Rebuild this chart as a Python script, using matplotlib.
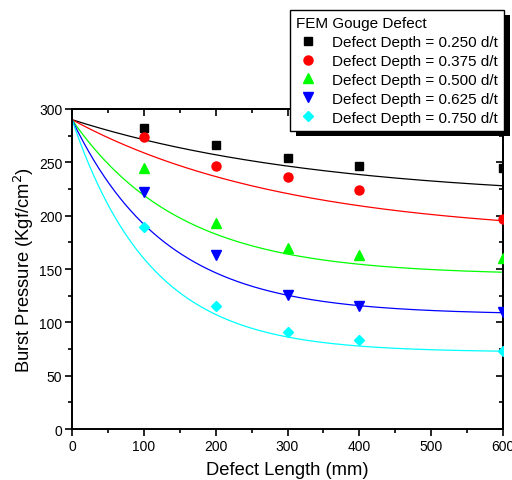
import numpy as np
import matplotlib
matplotlib.use("Agg")
import matplotlib.pyplot as plt
from matplotlib.patches import Rectangle
from matplotlib.ticker import MultipleLocator

plt.rcParams['font.family'] = ['Liberation Sans', 'DejaVu Sans']

# Data
defect_length = [100, 200, 300, 400, 600]
depth_labels = ["Defect Depth = 0.250 d/t", "Defect Depth = 0.375 d/t",
                "Defect Depth = 0.500 d/t", "Defect Depth = 0.625 d/t",
                "Defect Depth = 0.750 d/t"]
p_0250 = [282, 266, 254, 247, 245]
p_0375 = [274, 247, 236.5, 224, 197]
p_0500 = [245, 193, 170, 163, 160]
p_0625 = [222, 163, 125.5, 115, 110]
p_0750 = [189, 115.5, 91, 83, 73]

# exponential-decay fit parameters (y = y0 + A*exp(-x/t))
fit_y0 = [214.4, 180.4, 144.3, 107.2, 72.0]
fit_A = [75.6, 109.6, 145.7, 182.8, 218.0]
fit_t = [350, 300, 150, 130, 110]

colors = ['#000000', '#ff0000', '#00ff00', '#0000ff', '#00ffff']
markers = ['s', 'o', '^', 'v', 'D']
msizes = [5.5, 6.5, 6.5, 6.5, 5.5]

W, H = 512, 481
fig = plt.figure(figsize=(W / 100, H / 100), dpi=100)
ax = fig.add_axes([72 / W, 1 - 430 / H, (503 - 72) / W, (430 - 110) / H])

series = [p_0250, p_0375, p_0500, p_0625, p_0750]
xs = np.linspace(0, 600, 400)
handles = []
for i, s in enumerate(series):
    h, = ax.plot(defect_length, s, linestyle='none', marker=markers[i],
                 color=colors[i], markersize=msizes[i], label=depth_labels[i],
                 zorder=3)
    handles.append(h)
    ax.plot(xs, fit_y0[i] + fit_A[i] * np.exp(-xs / fit_t[i]),
            color=colors[i], lw=0.9, zorder=2)

ax.set_xlim(0, 600)
ax.set_ylim(0, 300)
ax.xaxis.set_major_locator(MultipleLocator(100))
ax.xaxis.set_minor_locator(MultipleLocator(50))
ax.yaxis.set_major_locator(MultipleLocator(50))
ax.yaxis.set_minor_locator(MultipleLocator(25))
ax.tick_params(axis='both', which='major', direction='out', length=5,
               width=1.2, labelsize=10, pad=2)
ax.tick_params(axis='both', which='minor', direction='out', length=3, width=1.2)
for sp in ax.spines.values():
    sp.set_linewidth(1.4)

# mirrored inward ticks on top and right
ax_top = ax.secondary_xaxis('top')
ax_top.xaxis.set_major_locator(MultipleLocator(100))
ax_top.xaxis.set_minor_locator(MultipleLocator(50))
ax_top.tick_params(which='major', direction='in', length=5, width=1.2, labeltop=False)
ax_top.tick_params(which='minor', direction='in', length=3, width=1.2)
ax_top.spines['top'].set_linewidth(1.4)
ax_right = ax.secondary_yaxis('right')
ax_right.yaxis.set_major_locator(MultipleLocator(50))
ax_right.yaxis.set_minor_locator(MultipleLocator(25))
ax_right.tick_params(which='major', direction='in', length=5, width=1.2, labelright=False)
ax_right.tick_params(which='minor', direction='in', length=3, width=1.2)
ax_right.spines['right'].set_linewidth(1.4)

ax.set_xlabel('Defect Length (mm)', fontsize=13.2, labelpad=6)
ax.set_ylabel('Burst Pressure (Kgf/cm$^2$)', fontsize=13.2, labelpad=2)

leg = fig.legend(handles=handles, labels=depth_labels, title='FEM Gouge Defect',
                 loc='upper left', bbox_to_anchor=(290 / W, 1 - 11 / H),
                 bbox_transform=fig.transFigure, fontsize=11, title_fontsize=11,
                 alignment='left', fancybox=False, frameon=True, edgecolor='black',
                 framealpha=1, borderpad=0.4, labelspacing=0.32,
                 handlelength=1.57, handletextpad=0.79, borderaxespad=0)
leg.get_frame().set_linewidth(1.0)
leg.set_zorder(10)

fig.canvas.draw()
bb = leg.get_window_extent()
shadow = Rectangle((bb.x0 + 6, bb.y0 - 5), bb.width, bb.height, transform=None,
                   facecolor='black', edgecolor='none', zorder=9)
fig.add_artist(shadow)

fig.savefig('out.png', dpi=100)
